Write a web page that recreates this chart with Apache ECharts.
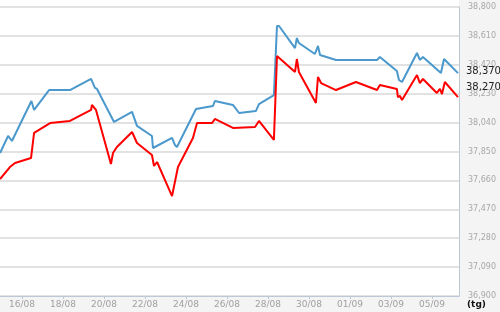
<!DOCTYPE html>
<html>
<head>
<meta charset="utf-8">
<script src="https://cdn.jsdelivr.net/npm/echarts@6/dist/echarts.min.js"></script>
<style>
html,body{margin:0;padding:0;background:#f4f4f4;}
#chart{width:500px;height:312px;}
</style>
</head>
<body>
<div id="chart"></div>
<script>
// x = days after 16/08 (16/08 = 0)
const xTickDays = [0, 2, 4, 6, 8, 10, 12, 14, 16, 18, 20];
const xTickLabels = ["16/08", "18/08", "20/08", "22/08", "24/08", "26/08", "28/08", "30/08", "01/09", "03/09", "05/09"];
const xMinDay = -1.073;
const xMaxDay = 21.32;

const yMin = 36900;
const yMax = 38800;
const yStep = 190;
const yUnit = "(tg)";

const blueDays = [-1.07, -0.68, -0.49, 0.46, 0.59, 1.32, 2.34, 3.37, 3.56, 3.66, 4.49, 5.37, 5.61, 6.34, 6.39, 7.32, 7.46, 7.56, 8.49, 9.32, 9.41, 10.29, 10.59, 11.41, 11.56, 12.29, 12.44, 12.54, 13.32, 13.41, 13.51, 14.29, 14.44, 14.54, 15.32, 17.32, 17.46, 18.29, 18.39, 18.54, 19.27, 19.41, 19.56, 20.44, 20.59, 21.27];
const blueValues = [37840, 37952, 37919, 38182, 38123, 38254, 38254, 38327, 38268, 38261, 38044, 38110, 38018, 37952, 37873, 37939, 37893, 37880, 38129, 38149, 38182, 38156, 38103, 38116, 38162, 38221, 38675, 38675, 38530, 38596, 38563, 38491, 38544, 38484, 38452, 38452, 38471, 38379, 38320, 38307, 38498, 38452, 38471, 38366, 38458, 38365];

const redDays = [-1.07, -0.59, -0.34, 0.44, 0.59, 1.37, 2.34, 3.37, 3.41, 3.61, 4.34, 4.44, 4.63, 5.37, 5.46, 5.61, 6.34, 6.44, 6.59, 7.32, 7.61, 8.34, 8.54, 9.27, 9.41, 10.29, 11.37, 11.56, 12.29, 12.44, 13.32, 13.41, 13.51, 14.34, 14.44, 14.59, 15.32, 16.29, 17.32, 17.46, 18.29, 18.34, 18.44, 18.54, 19.27, 19.41, 19.56, 20.24, 20.39, 20.49, 20.63, 21.27];
const redValues = [37669, 37748, 37774, 37807, 37972, 38037, 38051, 38123, 38156, 38123, 37768, 37840, 37880, 37978, 37972, 37906, 37827, 37755, 37781, 37557, 37748, 37939, 38037, 38037, 38064, 38005, 38011, 38051, 37926, 38478, 38373, 38458, 38373, 38169, 38340, 38300, 38254, 38307, 38254, 38287, 38261, 38208, 38215, 38189, 38353, 38300, 38327, 38235, 38261, 38228, 38307, 38208];

const latestLabels = ["38,370", "38,270"];

function fmtNum(v) {
  const s = String(Math.round(v));
  return s.replace(/\B(?=(\d{3})+(?!\d))/g, ",");
}
function pairs(xs, ys) { return xs.map((x, i) => [x, ys[i]]); }

const chart = echarts.init(document.getElementById('chart'), null, {renderer: 'canvas'});
chart.setOption({
  backgroundColor: '#f4f4f4',
  animation: false,
  graphic: [{
    type: 'rect', z: -10, silent: true,
    shape: {x: 0, y: 0, width: 459, height: 296},
    style: {fill: '#ffffff'}
  }],
  grid: {left: 0, right: 41, top: 7, bottom: 16, containLabel: false, outerBoundsMode: 'none',
         show: true, backgroundColor: '#ffffff', borderWidth: 0},
  xAxis: {
    type: 'value', min: xMinDay, max: xMaxDay,
    axisLine: {show: true, onZero: false, lineStyle: {color: '#bcc8d6', width: 1}},
    axisTick: {show: true, customValues: xTickDays, length: 3, lineStyle: {color: '#bcc8d6'}},
    axisLabel: {
      customValues: xTickDays, margin: 4, color: '#a0a0a0', fontSize: 9,
      fontFamily: 'DejaVu Sans',
      formatter: function (v) { const i = xTickDays.indexOf(v); return i >= 0 ? xTickLabels[i] : ''; }
    },
    splitLine: {show: false}
  },
  yAxis: {
    type: 'value', position: 'right', min: yMin, max: yMax, interval: yStep,
    name: yUnit, nameLocation: 'start', nameGap: 3,
    nameTextStyle: {color: '#111', fontWeight: 'bold', fontSize: 9, fontFamily: 'DejaVu Sans',
                    align: 'left', verticalAlign: 'top', padding: [0, 0, 0, 8]},
    axisLine: {show: true, onZero: false, lineStyle: {color: '#bcc8d6', width: 1}},
    axisTick: {show: false},
    axisLabel: {margin: 9, color: '#a8a8a8', fontSize: 8, fontFamily: 'DejaVu Sans',
                formatter: function (v) { return fmtNum(v); }},
    splitLine: {show: true, lineStyle: {color: '#d9d9d9', width: 1.5}}
  },
  series: [
    {
      type: 'line', data: pairs(blueDays, blueValues), showSymbol: false, symbol: 'none',
      lineStyle: {color: '#4a98cc', width: 2}, z: 3,
      endLabel: {show: true, formatter: latestLabels[0], distance: 8, offset: [0, -2],
                 color: '#222', fontSize: 10, fontFamily: 'DejaVu Sans'}
    },
    {
      type: 'line', data: pairs(redDays, redValues), showSymbol: false, symbol: 'none',
      lineStyle: {color: '#ff0000', width: 2}, z: 4,
      endLabel: {show: true, formatter: latestLabels[1], distance: 8, offset: [0, -10],
                 color: '#222', fontSize: 10, fontFamily: 'DejaVu Sans'}
    }
  ]
});
</script>
</body>
</html>
